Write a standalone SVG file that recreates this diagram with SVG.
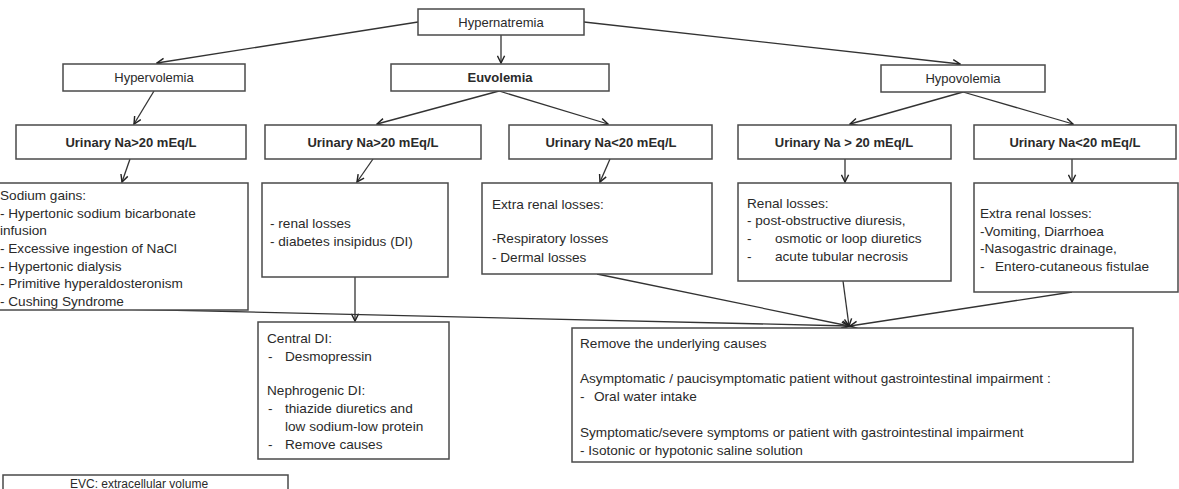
<svg xmlns="http://www.w3.org/2000/svg" width="1179" height="489" viewBox="0 0 1179 489">
<style>
.box{fill:#fff;stroke:#4a4a4a;stroke-width:1.5}
.t{font-family:"Liberation Sans",Arial,sans-serif;font-size:13.6px;fill:#2a2a2a}
.c{text-anchor:middle}
.b{font-weight:bold;font-size:13px}
.h{font-size:13px}
.edge{fill:none;stroke:#333;stroke-width:1.3;marker-end:url(#arr)}
</style>
<defs>
<marker id="arr" viewBox="0 0 10 10" refX="9" refY="5" markerWidth="9" markerHeight="9" orient="auto" markerUnits="userSpaceOnUse">
<path d="M1,1 L9,5 L1,9" fill="none" stroke="#222" stroke-width="1.6"/>
</marker>
</defs>
<rect width="1179" height="489" fill="#fff"/>

<g id="connectors">
<line class="edge" x1="418" y1="22" x2="157" y2="63"/>
<line class="edge" x1="501" y1="35" x2="501" y2="63"/>
<line class="edge" x1="584" y1="22" x2="960" y2="64"/>
<line class="edge" x1="154" y1="91" x2="134" y2="124"/>
<line class="edge" x1="499" y1="91" x2="377" y2="124"/>
<line class="edge" x1="499" y1="91" x2="608" y2="124"/>
<line class="edge" x1="963" y1="92" x2="850" y2="124"/>
<line class="edge" x1="963" y1="92" x2="1073" y2="124"/>
<line class="edge" x1="130" y1="159" x2="122" y2="182"/>
<line class="edge" x1="373" y1="159" x2="357" y2="182"/>
<line class="edge" x1="610" y1="159" x2="600" y2="182"/>
<line class="edge" x1="845" y1="159" x2="845" y2="182"/>
<line class="edge" x1="1072" y1="159" x2="1072" y2="182"/>
<line class="edge" x1="355" y1="277" x2="355" y2="321"/>
<line class="edge" x1="120" y1="309" x2="849" y2="326"/>
<line class="edge" x1="597" y1="274" x2="849" y2="326"/>
<line class="edge" x1="843" y1="281" x2="849" y2="326"/>
<line class="edge" x1="1072" y1="292" x2="850" y2="326"/>
</g>

<g id="hypernatremia">
<rect class="box" x="418" y="9" width="166" height="26"/>
<text class="t c h" x="501" y="27">Hypernatremia</text>
</g>
<g id="hypervolemia">
<rect class="box" x="63" y="64" width="182" height="27"/>
<text class="t c h" x="154" y="82">Hypervolemia</text>
</g>
<g id="euvolemia">
<rect class="box" x="391" y="64" width="218" height="27"/>
<text class="t c b" x="500" y="82">Euvolemia</text>
</g>
<g id="hypovolemia">
<rect class="box" x="881" y="65" width="164" height="27"/>
<text class="t c h" x="963" y="83">Hypovolemia</text>
</g>

<g id="una-hyper">
<rect class="box" x="16" y="125" width="230" height="34"/>
<text class="t c b" x="131" y="147">Urinary Na&gt;20 mEq/L</text>
</g>
<g id="una-euv-high">
<rect class="box" x="265" y="125" width="216" height="34"/>
<text class="t c b" x="373" y="147">Urinary Na&gt;20 mEq/L</text>
</g>
<g id="una-euv-low">
<rect class="box" x="509" y="125" width="203" height="34"/>
<text class="t c b" x="611" y="147">Urinary Na&lt;20 mEq/L</text>
</g>
<g id="una-hypo-high">
<rect class="box" x="738" y="125" width="213" height="34"/>
<text class="t c b" x="844" y="147">Urinary Na &gt; 20 mEq/L</text>
</g>
<g id="una-hypo-low">
<rect class="box" x="974" y="125" width="202" height="34"/>
<text class="t c b" x="1075" y="147">Urinary Na&lt;20 mEq/L</text>
</g>

<g id="sodium-gains">
<rect class="box" x="-2" y="183" width="250" height="127"/>
<text class="t" x="0" y="200">Sodium gains:</text>
<text class="t" x="0" y="218">- Hypertonic sodium bicarbonate</text>
<text class="t" x="0" y="235">infusion</text>
<text class="t" x="0" y="253">- Excessive ingestion of NaCl</text>
<text class="t" x="0" y="271">- Hypertonic dialysis</text>
<text class="t" x="0" y="288">- Primitive hyperaldosteronism</text>
<text class="t" x="0" y="306">- Cushing Syndrome</text>
</g>
<g id="renal-euv">
<rect class="box" x="262" y="183" width="186" height="94"/>
<text class="t" x="270" y="228">- renal losses</text>
<text class="t" x="270" y="246">- diabetes insipidus (DI)</text>
</g>
<g id="extrarenal-euv">
<rect class="box" x="482" y="183" width="230" height="91"/>
<text class="t" x="492" y="209">Extra renal losses:</text>
<text class="t" x="492" y="243">-Respiratory losses</text>
<text class="t" x="492" y="262">- Dermal losses</text>
</g>
<g id="renal-hypo">
<rect class="box" x="738" y="183" width="213" height="98"/>
<text class="t" x="747" y="208">Renal losses:</text>
<text class="t" x="747" y="225">- post-obstructive diuresis,</text>
<text class="t" x="747" y="243">-</text>
<text class="t" x="775" y="243">osmotic or loop diuretics</text>
<text class="t" x="747" y="261">-</text>
<text class="t" x="775" y="261">acute tubular necrosis</text>
</g>
<g id="extrarenal-hypo">
<rect class="box" x="974" y="183" width="204" height="109"/>
<text class="t" x="980" y="218">Extra renal losses:</text>
<text class="t" x="980" y="236">-Vomiting, Diarrhoea</text>
<text class="t" x="980" y="253">-Nasogastric drainage,</text>
<text class="t" x="980" y="271">-</text>
<text class="t" x="995" y="271">Entero-cutaneous fistulae</text>
</g>

<g id="central-di">
<rect class="box" x="258" y="322" width="191" height="137"/>
<text class="t" x="267" y="343">Central DI:</text>
<text class="t" x="268" y="361">-</text>
<text class="t" x="285" y="361">Desmopressin</text>
<text class="t" x="267" y="395">Nephrogenic DI:</text>
<text class="t" x="268" y="413">-</text>
<text class="t" x="285" y="413">thiazide diuretics and</text>
<text class="t" x="285" y="431">low sodium-low protein</text>
<text class="t" x="268" y="449">-</text>
<text class="t" x="285" y="449">Remove causes</text>
</g>
<g id="treatment">
<rect class="box" x="572" y="328" width="561" height="134"/>
<text class="t" x="580" y="348">Remove the underlying causes</text>
<text class="t" x="580" y="383">Asymptomatic / paucisymptomatic patient without gastrointestinal impairment :</text>
<text class="t" x="580" y="401">-</text>
<text class="t" x="594" y="401">Oral water intake</text>
<text class="t" x="580" y="437">Symptomatic/severe symptoms or patient with gastrointestinal impairment</text>
<text class="t" x="580" y="455">- Isotonic or hypotonic saline solution</text>
</g>
<g id="legend">
<rect class="box" x="3" y="475" width="285" height="30"/>
<text class="t" x="70" y="488" style="font-size:12px">EVC: extracellular volume</text>
</g>
</svg>
